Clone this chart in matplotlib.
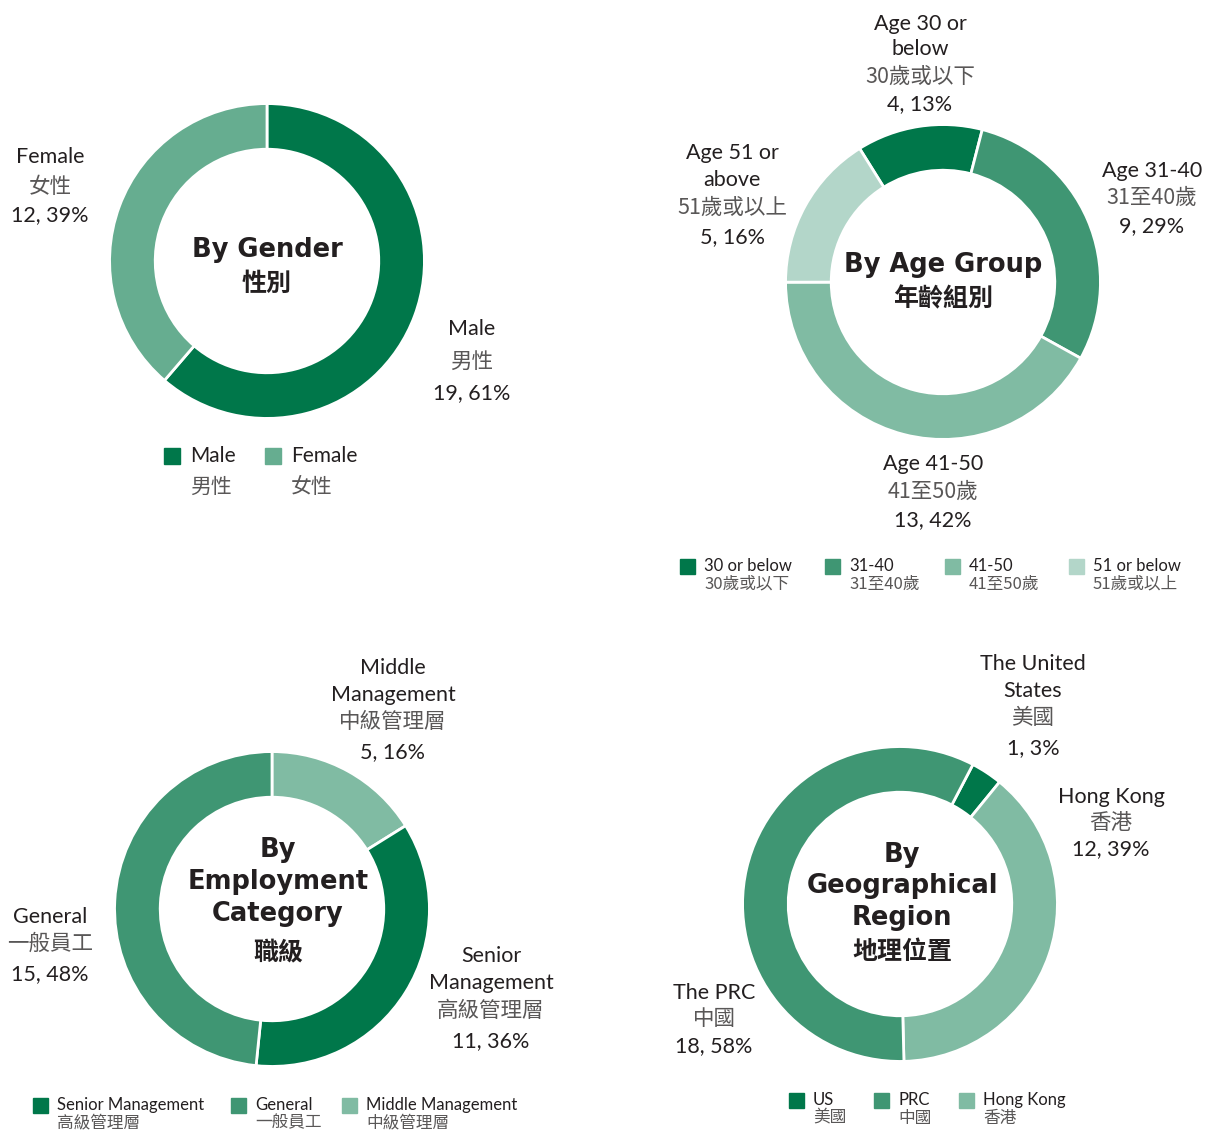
import matplotlib
matplotlib.use('Agg')
import matplotlib.pyplot as plt
from matplotlib.patches import Rectangle

W, H = 1209, 1131

# data
gender_labels = ['Male', 'Female']
gender_cn = ['男性', '女性']
gender_values = [19, 12]
gender_pct = [61, 39]

age_labels = ['30 or below', '31-40', '41-50', '51 or below']
age_cn = ['30歲或以下', '31至40歲', '41至50歲', '51歲或以上']
age_values = [4, 9, 13, 5]
age_pct = [13, 29, 42, 16]

emp_labels = ['Middle Management', 'Senior Management', 'General']
emp_cn = ['中級管理層', '高級管理層', '一般員工']
emp_values = [5, 11, 15]
emp_pct = [16, 36, 48]

geo_labels = ['US', 'Hong Kong', 'PRC']
geo_cn = ['美國', '香港', '中國']
geo_values = [1, 12, 18]
geo_pct = [3, 39, 58]

DARK = '#00774A'
MED = '#3F9673'
GLIGHT = '#66AD90'
LIGHT = '#80BBA3'
PALE = '#B3D6C9'
TXT = '#231F20'
GREY = '#595757'

LAT = ['Lato', 'Noto Sans CJK TC', 'DejaVu Sans']
CJK = ['Noto Sans CJK TC', 'DejaVu Sans']
HEAD = ['DejaVu Sans']

fig = plt.figure(figsize=(W / 100, H / 100), dpi=100)


def px(x, y):
    return x / W, 1 - y / H


def donut(cx, cy, values, colors, start, r=159):
    ax = fig.add_axes([(cx - r) / W, 1 - (cy + r) / H, 2 * r / W, 2 * r / H])
    ax.pie(values, colors=colors, startangle=start, counterclock=False, radius=1,
           wedgeprops=dict(width=0.29, edgecolor='white', linewidth=2))
    ax.set_xlim(-1.01, 1.01)
    ax.set_ylim(-1.01, 1.01)
    ax.axis('off')
    return ax


def txt(x, y, s, size=15.5, color=TXT, family=LAT, weight='normal', ha='center'):
    fig.text(*px(x, y), s, fontsize=size, color=color, family=family,
             weight=weight, ha=ha, va='center')


def title(x, ys, lines, cn):
    for y, s in zip(ys[:-1], lines):
        txt(x, y, s, size=18.5, family=HEAD, weight='bold')
    txt(x, ys[-1], cn, size=18, family=CJK, weight='bold')


def label(x, ys, lines):
    # english lines, chinese line, value line
    for y, (s, kind) in zip(ys, lines):
        if kind == 'cn':
            txt(x, y, s, color=GREY, family=CJK, weight='light')
        else:
            txt(x, y, s)


def legend(items, y, size=12, box=15, gap=9, dy=18):
    for x, col, en, cn in items:
        fig.patches.append(Rectangle(px(x, y + box / 2), box / W, box / H,
                                     transform=fig.transFigure, color=col))
        txt(x + box + gap, y, en, size=size, ha='left')
        txt(x + box + gap, y + dy, cn, size=size, color=GREY, family=CJK,
            weight='light', ha='left')


def val(v, p):
    return f'{v}, {p}%'


# ---- gender
donut(267, 261, gender_values, [DARK, GLIGHT], 90)
title(267, [250, 284], ['By Gender'], '性別')
label(50, [157, 187, 215], [('Female', 'en'), ('女性', 'cn'),
                            (val(gender_values[1], gender_pct[1]), 'en')])
label(472, [329, 362, 393], [('Male', 'en'), ('男性', 'cn'),
                             (val(gender_values[0], gender_pct[0]), 'en')])
legend([(164, DARK, 'Male', '男性'), (265, GLIGHT, 'Female', '女性')],
       456, size=15, box=16, gap=10, dy=31)

# ---- age
donut(943, 282, age_values, [DARK, MED, LIGHT, PALE], 122)
title(943, [265, 299], ['By Age Group'], '年齡組別')
label(920, [24, 49, 77, 104], [('Age 30 or', 'en'), ('below', 'en'),
                               ('30歲或以下', 'cn'), (val(age_values[0], age_pct[0]), 'en')])
label(732, [153, 180, 208, 237], [('Age 51 or', 'en'), ('above', 'en'),
                                  ('51歲或以上', 'cn'), (val(age_values[3], age_pct[3]), 'en')])
label(1152, [171, 198, 226], [('Age 31-40', 'en'), ('31至40歲', 'cn'),
                              (val(age_values[1], age_pct[1]), 'en')])
label(933, [464, 492, 520], [('Age 41-50', 'en'), ('41至50歲', 'cn'),
                             (val(age_values[2], age_pct[2]), 'en')])
age_cols = [DARK, MED, LIGHT, PALE]
legend([(x, c, e, n) for x, c, e, n in zip([680, 825, 945, 1069], age_cols,
                                          age_labels, age_cn)], 566)

# ---- employment
donut(272, 909, emp_values, [LIGHT, DARK, MED], 90)
title(278, [850, 882, 914, 953], ['By', 'Employment', 'Category'], '職級')
label(393, [668, 695, 722, 752], [('Middle', 'en'), ('Management', 'en'),
                                  ('中級管理層', 'cn'), (val(emp_values[0], emp_pct[0]), 'en')])
label(50, [917, 944, 974], [('General', 'en'), ('一般員工', 'cn'),
                            (val(emp_values[2], emp_pct[2]), 'en')])
label(491, [956, 983, 1011, 1041], [('Senior', 'en'), ('Management', 'en'),
                                    ('高級管理層', 'cn'), (val(emp_values[1], emp_pct[1]), 'en')])
legend([(33, DARK, emp_labels[1], emp_cn[1]), (231, MED, emp_labels[2], emp_cn[2]),
        (342, LIGHT, emp_labels[0], emp_cn[0])], 1105)

# ---- geography
donut(900, 904, geo_values, [DARK, LIGHT, MED], 62.4)
title(902, [855, 886, 918, 952], ['By', 'Geographical', 'Region'], '地理位置')
label(1033, [664, 691, 718, 748], [('The United', 'en'), ('States', 'en'),
                                   ('美國', 'cn'), (val(geo_values[0], geo_pct[0]), 'en')])
label(1111, [797, 823, 849], [('Hong Kong', 'en'), ('香港', 'cn'),
                              (val(geo_values[1], geo_pct[1]), 'en')])
label(714, [993, 1019, 1046], [('The PRC', 'en'), ('中國', 'cn'),
                               (val(geo_values[2], geo_pct[2]), 'en')])
legend([(789, DARK, 'US', '美國'), (874, MED, 'PRC', '中國'),
        (959, LIGHT, 'Hong Kong', '香港')], 1100)

fig.savefig('out.png', dpi=100, facecolor='white')
